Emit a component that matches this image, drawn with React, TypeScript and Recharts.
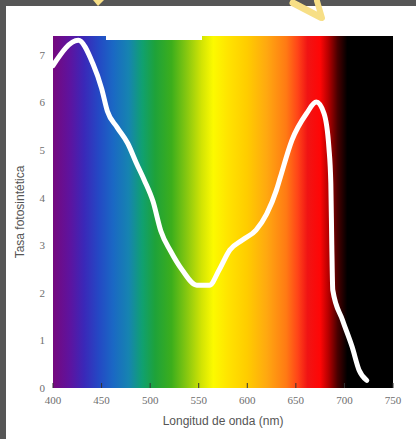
import React from 'react';
import { LineChart, Line, XAxis, YAxis, ReferenceArea, Label } from 'recharts';

const wavelengths = [400, 426, 441, 450, 456, 466, 477, 486, 494, 503, 511, 521, 533, 548, 561, 571, 582, 595, 609, 620, 630, 634, 646, 661, 671, 679, 684, 686, 687, 688, 698, 708, 715, 723];
const rates = [6.78, 7.31, 6.82, 6.3, 5.82, 5.48, 5.14, 4.72, 4.37, 3.92, 3.3, 2.88, 2.48, 2.16, 2.16, 2.48, 2.9, 3.11, 3.32, 3.66, 4.16, 4.43, 5.21, 5.77, 6.01, 5.77, 5.06, 4.3, 3.0, 2.06, 1.43, 0.86, 0.38, 0.16];
const xTicks = [400, 450, 500, 550, 600, 650, 700, 750];
const yTicks = [0, 1, 2, 3, 4, 5, 6, 7];

const spectrumStops: [number, string][] = [
  [400, '#76087e'],
  [418, '#5c14a0'],
  [432, '#3a28b8'],
  [447, '#2448c4'],
  [462, '#1a68c4'],
  [478, '#1684b0'],
  [492, '#10a070'],
  [505, '#1ea23a'],
  [522, '#3cae1c'],
  [538, '#88c810'],
  [553, '#d2e404'],
  [565, '#fcfa00'],
  [580, '#ffe400'],
  [600, '#ffcc00'],
  [620, '#ffa810'],
  [640, '#ff7a14'],
  [652, '#ff4418'],
  [662, '#f01414'],
  [675, '#ff0606'],
  [684, '#b00000'],
  [693, '#480000'],
  [703, '#000000'],
  [750, '#000000'],
];

const data = wavelengths.map((w, i) => ({ w, r: rates[i] }));

export default function App() {
  return (
    <div style={{ position: 'fixed', left: 0, top: 0, width: 416, height: 439, background: '#565656' }}>
      <div style={{ position: 'absolute', left: 6, top: 6, width: 410, height: 433, background: '#ffffff' }} />
      <svg width={416} height={40} style={{ position: 'absolute', left: 0, top: 0 }}>
        <polygon points="93,0 104,0 98,6" fill="#f7df86" />
        <line x1={293} y1={3} x2={320} y2={17} stroke="#f7df86" strokeWidth={7} strokeLinecap="round" />
        <line x1={317} y1={1} x2={322} y2={18} stroke="#f7df86" strokeWidth={6} strokeLinecap="round" />
      </svg>
      <div style={{ position: 'absolute', left: 0, top: 0 }}>
        <LineChart width={416} height={439} data={data} margin={{ top: 36, right: 23, bottom: 0, left: 0 }}>
          <defs>
            <linearGradient id="spec" x1="0" y1="0" x2="1" y2="0">
              {spectrumStops.map(([nm, c]) => (
                <stop key={nm} offset={(nm - 400) / 350} stopColor={c} />
              ))}
            </linearGradient>
          </defs>
          <XAxis
            dataKey="w"
            type="number"
            domain={[400, 750]}
            ticks={xTicks}
            height={51}
            axisLine={false}
            tickSize={-5}
            tickMargin={13}
            tickLine={{ stroke: '#333', strokeWidth: 1 }}
            tick={{ fill: '#6e6e6e', fontSize: 11, fontFamily: 'Liberation Serif' }}
          >
            <Label
              value="Longitud de onda (nm)"
              position="insideBottom"
              offset={14}
              style={{ fill: '#555', fontSize: 12, fontFamily: 'Liberation Sans' }}
            />
          </XAxis>
          <YAxis
            type="number"
            domain={[0, 7.4]}
            ticks={yTicks}
            width={53}
            axisLine={false}
            tickLine={false}
            tickSize={0}
            tickMargin={8}
            tick={{ fill: '#6e6e6e', fontSize: 11, fontFamily: 'Liberation Serif' }}
          >
            <Label
              value="Tasa fotosintética"
              angle={-90}
              position="insideLeft"
              offset={20}
              style={{ fill: '#555', fontSize: 12, fontFamily: 'Liberation Sans', textAnchor: 'middle' }}
            />
          </YAxis>
          <ReferenceArea x1={400} x2={750} y1={0} y2={7.4} fill="url(#spec)" fillOpacity={1} stroke="none" />
          <Line
            dataKey="r"
            type="monotone"
            stroke="#ffffff"
            strokeWidth={5}
            dot={false}
            strokeLinecap="round"
            strokeLinejoin="round"
            isAnimationActive={false}
          />
        </LineChart>
      </div>
      <div style={{ position: 'absolute', left: 106, top: 36, width: 96, height: 4, background: '#ffffff' }} />
    </div>
  );
}
